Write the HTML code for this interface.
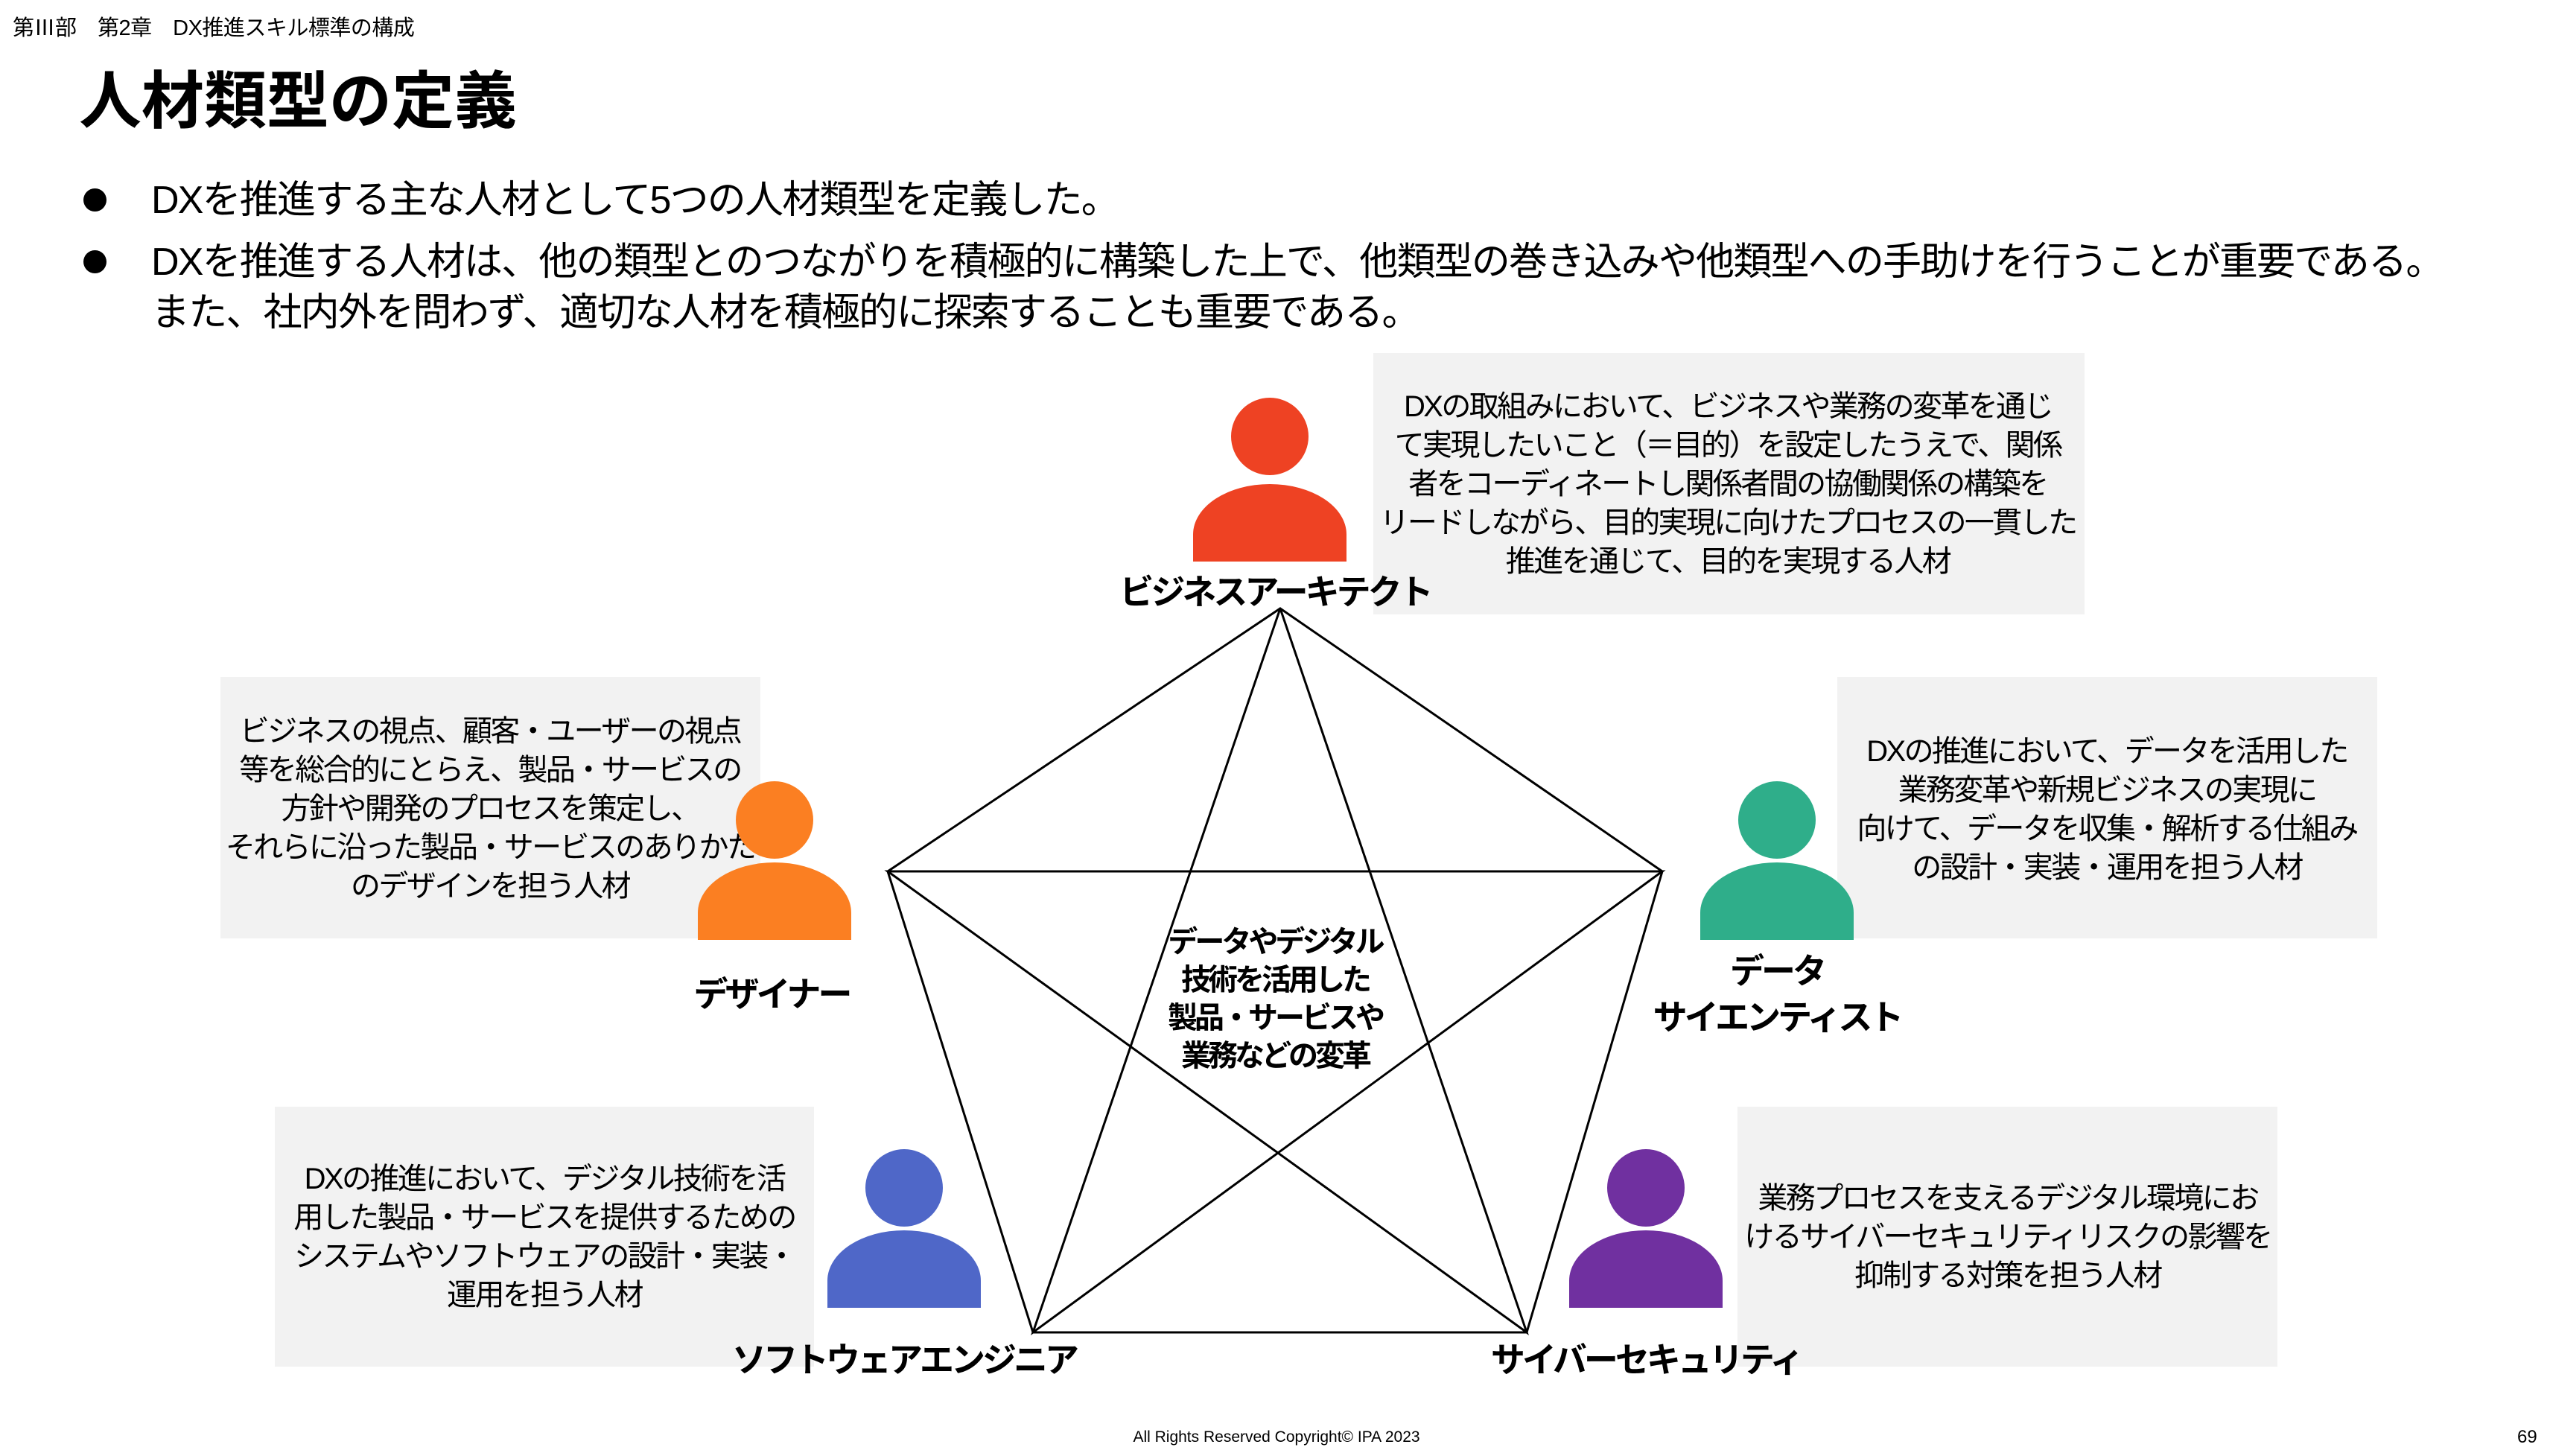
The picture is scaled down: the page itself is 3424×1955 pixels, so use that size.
<!DOCTYPE html>
<html><head><meta charset="utf-8"><style>
body{margin:0;width:3424px;height:1955px;background:#fff;position:relative;overflow:hidden;font-family:"Liberation Sans","Noto Sans CJK JP",sans-serif;color:#000}
.a{position:absolute}
.box{position:absolute;background:#f2f2f2}
.t{position:absolute;text-align:center;font-size:40px;line-height:52px;white-space:nowrap;transform:translateX(-50%);letter-spacing:-2.6px}
.lab{position:absolute;font-weight:bold;font-size:46px;line-height:62px;white-space:nowrap;transform:translateX(-50%);text-align:center;letter-spacing:-4px}
.head{position:absolute;width:104px;height:104px;border-radius:50%}
.body{position:absolute;width:206px;height:104px;border-radius:50% 50% 0 0/65% 65% 0 0}
</style></head><body>
<div class="a" style="left:17px;top:14px;font-size:29px;letter-spacing:-0.5px">第Ⅲ部　第2章　DX推進スキル標準の構成</div>
<div class="a" style="left:106px;top:86px;font-size:84px;font-weight:bold;line-height:100px">人材類型の定義</div>
<div class="a" style="left:112px;top:253px;width:31px;height:31px;border-radius:50%;background:#000"></div>
<div class="a" style="left:112px;top:336px;width:31px;height:31px;border-radius:50%;background:#000"></div>
<div class="a" style="left:203px;top:236px;font-size:52px;line-height:66px;white-space:nowrap;letter-spacing:-1.8px">DXを推進する主な人材として5つの人材類型を定義した。</div>
<div class="a" style="left:203px;top:318px;font-size:52px;line-height:68px;white-space:nowrap;letter-spacing:-1.8px">DXを推進する人材は、他の類型とのつながりを積極的に構築した上で、他類型の巻き込みや他類型への手助けを行うことが重要である。<br>また、社内外を問わず、適切な人材を積極的に探索することも重要である。</div>

<div class="box" style="left:1844px;top:474px;width:955px;height:351px"></div>
<div class="box" style="left:296px;top:909px;width:725px;height:351px"></div>
<div class="box" style="left:2467px;top:909px;width:725px;height:351px"></div>
<div class="box" style="left:369px;top:1486px;width:724px;height:349px"></div>
<div class="box" style="left:2333px;top:1486px;width:725px;height:349px"></div>

<div class="t" style="left:2320px;top:520px">DXの取組みにおいて、ビジネスや業務の変革を通じ<br>て実現したいこと（＝目的）を設定したうえで、関係<br>者をコーディネートし関係者間の協働関係の構築を<br>リードしながら、目的実現に向けたプロセスの一貫した<br>推進を通じて、目的を実現する人材</div>
<div class="t" style="left:658px;top:956px">ビジネスの視点、顧客・ユーザーの視点<br>等を総合的にとらえ、製品・サービスの<br>方針や開発のプロセスを策定し、<br>それらに沿った製品・サービスのありかた<br>のデザインを担う人材</div>
<div class="t" style="left:2829px;top:983px">DXの推進において、データを活用した<br>業務変革や新規ビジネスの実現に<br>向けて、データを収集・解析する仕組み<br>の設計・実装・運用を担う人材</div>
<div class="t" style="left:731px;top:1557px">DXの推進において、デジタル技術を活<br>用した製品・サービスを提供するための<br>システムやソフトウェアの設計・実装・<br>運用を担う人材</div>
<div class="t" style="left:2696px;top:1583px">業務プロセスを支えるデジタル環境にお<br>けるサイバーセキュリティリスクの影響を<br>抑制する対策を担う人材</div>

<svg class="a" style="left:0;top:0" width="3424" height="1955">
<g fill="none" stroke="#000" stroke-width="3">
<polygon points="1719,817 2232,1170 2050,1789 1387,1789 1192,1170"/>
<polyline points="1719,817 1387,1789 2232,1170 1192,1170 2050,1789 1719,817"/>
</g></svg>

<div class="head" style="left:1653px;top:534px;background:#ee4223"></div>
<div class="body" style="left:1602px;top:650px;background:#ee4223"></div>
<div class="head" style="left:988px;top:1049px;background:#fb7f22"></div>
<div class="body" style="left:937px;top:1158px;background:#fb7f22"></div>
<div class="head" style="left:2334px;top:1049px;background:#2fae8a"></div>
<div class="body" style="left:2283px;top:1158px;background:#2fae8a"></div>
<div class="head" style="left:1162px;top:1543px;background:#4f67c8"></div>
<div class="body" style="left:1111px;top:1652px;background:#4f67c8"></div>
<div class="head" style="left:2158px;top:1543px;background:#7030a0"></div>
<div class="body" style="left:2107px;top:1652px;background:#7030a0"></div>

<div class="lab" style="left:1712px;top:764px">ビジネスアーキテクト</div>
<div class="lab" style="left:1036px;top:1304px">デザイナー</div>
<div class="lab" style="left:2386px;top:1273px">データ<br>サイエンティスト</div>
<div class="lab" style="left:1214px;top:1795px">ソフトウェアエンジニア</div>
<div class="lab" style="left:2210px;top:1795px">サイバーセキュリティ</div>
<div class="lab" style="left:1712px;top:1240px;font-size:40px;line-height:51px">データやデジタル<br>技術を活用した<br>製品・サービスや<br>業務などの変革</div>

<div class="a" style="left:1714px;top:1918px;font-size:21px;transform:translateX(-50%);white-space:nowrap">All Rights Reserved Copyright© IPA 2023</div>
<div class="a" style="left:3380px;top:1916px;font-size:24px">69</div>
</body></html>
